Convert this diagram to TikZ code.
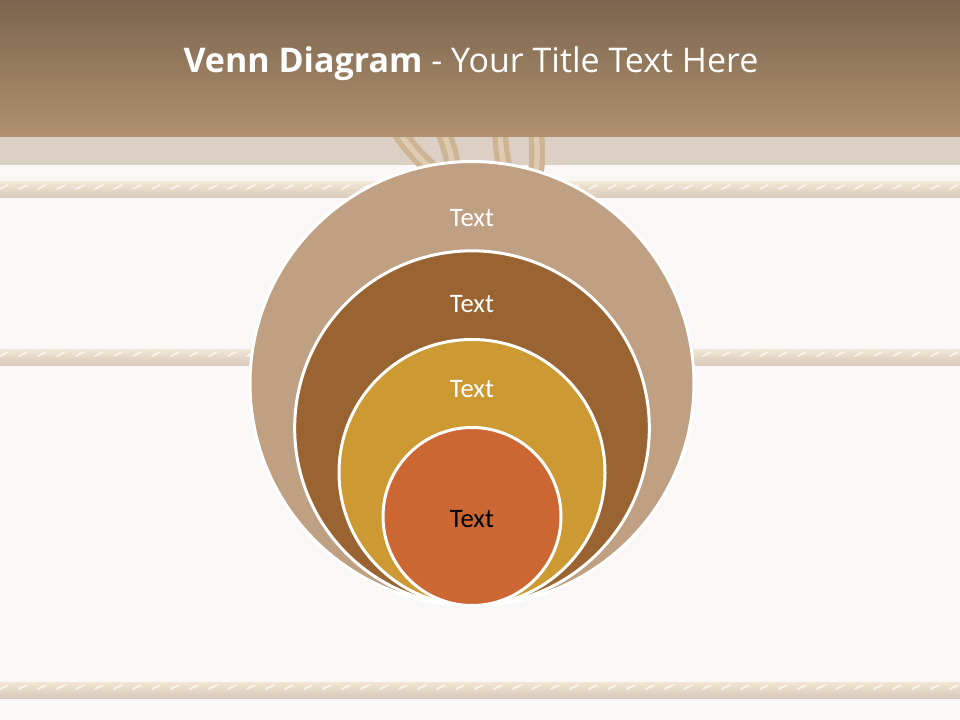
\documentclass[tikz,border=0pt]{standalone}
\usepackage{fontspec}
\setmainfont{Carlito}
\newfontfamily\titlefont{Open Sans}
\usetikzlibrary{positioning,calc}
\definecolor{barTop}{HTML}{7C654E}
\definecolor{barBottom}{HTML}{AF916F}
\definecolor{band}{HTML}{DCCFC4}
\definecolor{paper}{HTML}{FAF8F6}
\definecolor{ropeLight}{HTML}{F2E6D4}
\definecolor{ropeDark}{HTML}{D8C9BA}
\definecolor{knot}{HTML}{CDB594}
\definecolor{ringA}{HTML}{BFA083}
\definecolor{ringB}{HTML}{9A6432}
\definecolor{ringC}{HTML}{CC9933}
\definecolor{ringD}{HTML}{CC6633}

\begin{document}
\begin{tikzpicture}[x=0.75pt,y=-0.75pt,
  ring/.style={circle, draw=white, line width=2.25pt, anchor=south, inner sep=0pt},
  ringtext/.style={font=\fontsize{20}{22}\selectfont, text=white},
  knotline/.style={line width=12pt, draw=knot},
  knotlight/.style={line width=4pt, draw=knot!55!ropeLight},
]
  \useasboundingbox (0,0) rectangle (960,720);
  \fill[paper] (0,0) rectangle (960,720);
  \fill[band] (0,137) rectangle (960,165);

  % ropes
  \foreach \y in {190,357,690} {
    \shade[top color=ropeLight, bottom color=ropeDark] (0,\y-8) rectangle (960,\y+8);
    \foreach \x in {0,19,...,960}
      \draw[white!60!ropeLight, line width=1.3pt, line cap=round] (\x,\y-1) -- (\x+8,\y-5);
  }

  % knot behind the circles
  \draw[knotline] (394,125) .. controls (430,180) and (475,205) .. (440,125);
  \draw[knotline] (500,125) .. controls (500,215) and (548,215) .. (535,125);
  \draw[knotlight] (394,125) .. controls (430,180) and (475,205) .. (440,125);
  \draw[knotlight] (500,125) .. controls (500,215) and (548,215) .. (535,125);

  % title bar
  \shade[top color=barTop, bottom color=barBottom] (0,0) rectangle (960,137);
  \node[font=\titlefont\fontsize{25.5}{30}\selectfont, text=white] (title) at (471,64)
    {\textbf{Venn Diagram} - Your Title Text Here};

  % nested circles
  \coordinate (base) at (472,607);
  \node[ring, fill=ringA, minimum size=333pt] (outer) at (base) {};
  \node[ring, fill=ringB, minimum size=266pt] (second) at (base) {};
  \node[ring, fill=ringC, minimum size=199.5pt] (third) at (base) {};
  \node[ring, fill=ringD, minimum size=133.5pt] (inner) at (base) {};

  \node[ringtext] (outerText) at ($(outer.north)+(0,58)$) {Text};
  \node[ringtext] (secondText) at ($(second.north)+(0,55)$) {Text};
  \node[ringtext] (thirdText) at ($(third.north)+(0,51.5)$) {Text};
  \node[ringtext, text=black] (innerText) at ($(inner.center)+(0,3)$) {Text};
\end{tikzpicture}
\end{document}
